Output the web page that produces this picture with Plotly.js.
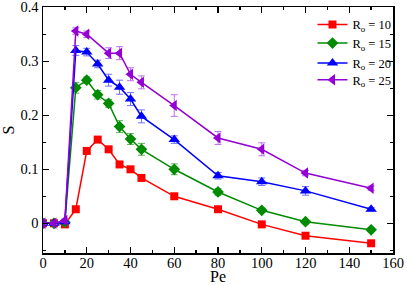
<!DOCTYPE html>
<html>
<head>
<script src="https://cdn.plot.ly/plotly-3.0.1.min.js"></script>
<style>html,body{margin:0;padding:0;background:#fff;}#chart{width:407px;height:285px;}</style>
</head>
<body>
<div id="chart"></div>
<script>
const pe = [0, 5, 10, 15, 20, 25, 30, 35, 40, 45, 60, 80, 100, 120, 150];
const peR25 = [0, 5, 10, 15, 20, 30, 35, 40, 45, 60, 80, 100, 120, 150];

const sR10 = [0, 0, -0.002, 0.026, 0.134, 0.155, 0.137, 0.109, 0.100, 0.084, 0.050, 0.026, -0.002, -0.023, -0.037];
const eR10 = [0.001, 0.001, 0.001, 0.002, 0.003, 0.003, 0.003, 0.003, 0.003, 0.003, 0.002, 0.002, 0.002, 0.002, 0.002];

const sR15 = [0, 0, 0.002, 0.251, 0.265, 0.238, 0.222, 0.179, 0.156, 0.137, 0.100, 0.058, 0.024, 0.003, -0.012];
const eR15 = [0.002, 0.002, 0.002, 0.010, 0.006, 0.008, 0.007, 0.011, 0.010, 0.011, 0.010, 0.006, 0.004, 0.004, 0.003];

const sR20 = [0, 0, 0.003, 0.320, 0.317, 0.295, 0.265, 0.252, 0.230, 0.198, 0.155, 0.088, 0.077, 0.060, 0.026];
const eR20 = [0.002, 0.002, 0.003, 0.009, 0.007, 0.007, 0.011, 0.013, 0.012, 0.012, 0.007, 0.006, 0.007, 0.008, 0.003];

const sR25 = [0, 0, 0.005, 0.356, 0.350, 0.315, 0.315, 0.276, 0.261, 0.218, 0.158, 0.137, 0.093, 0.065];
const eR25 = [0.002, 0.002, 0.003, 0.006, 0.006, 0.010, 0.012, 0.012, 0.012, 0.020, 0.012, 0.012, 0.005, 0.004];

const names = ['R<sub>o</sub> = 10', 'R<sub>o</sub> = 15', 'R<sub>o</sub> = 20', 'R<sub>o</sub> = 25'];
const xTicks = [0, 20, 40, 60, 80, 100, 120, 140, 160];
const yTicks = [0, 0.1, 0.2, 0.3, 0.4];
const yTickText = ['0', '0.1', '0.2', '0.3', '0.4'];
const xTitle = 'Pe';
const yTitle = 'S';

function trace(x, y, e, name, color, ecolor, symbol, size, leg) {
  return {
    x: x, y: y, name: name, type: 'scatter', mode: 'lines+markers', legend: leg,
    line: {color: color, width: 1.5},
    marker: {color: color, symbol: symbol, size: size},
    error_y: {type: 'data', array: e, visible: true, color: ecolor, thickness: 1, width: 3.5}
  };
}

const data = [
  trace(pe, sR10, eR10, names[0], '#ff0000', '#ff7070', 'square', 8, 'legend'),
  trace(pe, sR15, eR15, names[1], '#008b00', '#55b055', 'diamond', 9, 'legend2'),
  trace(pe, sR20, eR20, names[2], '#0000ff', '#7070ff', 'triangle-up', 10, 'legend3'),
  trace(peR25, sR25, eR25, names[3], '#9400d3', '#c070ee', 'triangle-left', 10, 'legend4')
];

const FF = 'Liberation Serif';

function leg(y) {
  return {
    x: 0.77, y: y, xanchor: 'left', yanchor: 'middle',
    bgcolor: 'rgba(0,0,0,0)', borderwidth: 0,
    font: {family: FF, color: '#000', size: 12.5},
    itemwidth: 30
  };
}

const layout = {
  width: 407, height: 285,
  margin: {l: 43, r: 14, t: 7, b: 32},
  paper_bgcolor: '#fff', plot_bgcolor: '#fff',
  font: {family: FF, color: '#000', size: 14},
  showlegend: true,
  legend: leg(0.927),
  legend2: leg(0.852),
  legend3: leg(0.771),
  legend4: leg(0.703),
  annotations: [{
    text: xTitle, xref: 'paper', yref: 'paper', x: 0.5, y: -0.094,
    xanchor: 'center', yanchor: 'middle', showarrow: false,
    font: {family: FF, color: '#000', size: 16}
  }],
  xaxis: {
    range: [0, 160], tickvals: xTicks,
    ticks: 'inside', ticklen: 6, tickwidth: 1.3, tickcolor: '#000',
    minor: {dtick: 10, ticks: 'inside', ticklen: 3, tickwidth: 1.3, tickcolor: '#000'},
    showline: true, linecolor: '#000', linewidth: 1.5, mirror: 'ticks',
    showgrid: false, zeroline: false, ticklabelstandoff: -4, ticklabeloverflow: 'allow',
    tickfont: {family: FF, color: '#000', size: 14.5}
  },
  yaxis: {
    range: [-0.055, 0.4005], tickvals: yTicks, ticktext: yTickText,
    ticks: 'inside', ticklen: 6, tickwidth: 1.3, tickcolor: '#000',
    minor: {dtick: 0.05, tick0: 0, ticks: 'inside', ticklen: 3, tickwidth: 1.3, tickcolor: '#000'},
    showline: true, linecolor: '#000', linewidth: 1.5, mirror: 'ticks',
    showgrid: false, zeroline: false, ticklabeloverflow: 'allow',
    tickfont: {family: FF, color: '#000', size: 14.5},
    title: {text: yTitle, font: {family: FF, color: '#000', size: 16}}
  }
};

Plotly.newPlot('chart', data, layout, {displayModeBar: false, staticPlot: true});
</script>
</body>
</html>
